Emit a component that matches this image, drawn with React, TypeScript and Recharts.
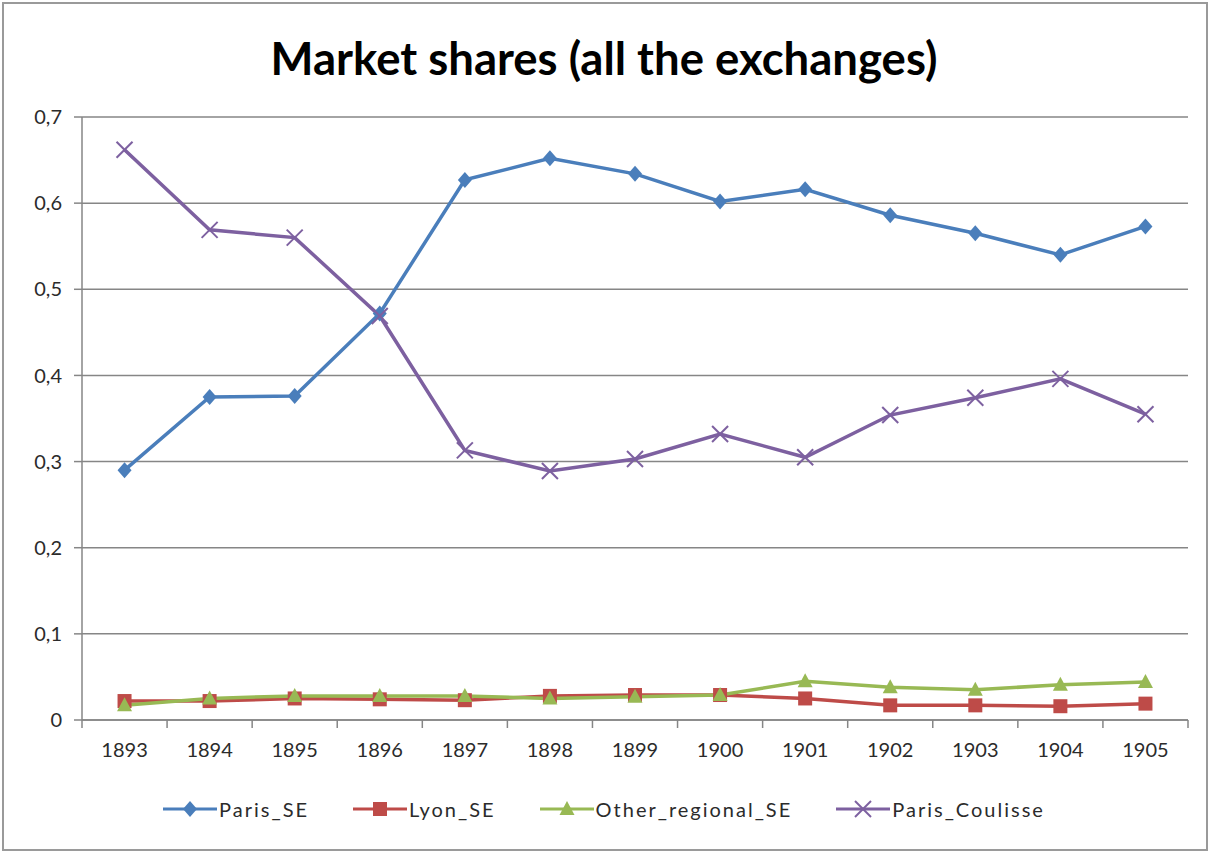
import { LineChart, Line, XAxis, YAxis, CartesianGrid } from 'recharts';

const years = ['1893', '1894', '1895', '1896', '1897', '1898', '1899', '1900', '1901', '1902', '1903', '1904', '1905'];
const parisSE = [0.29, 0.375, 0.376, 0.472, 0.627, 0.652, 0.634, 0.602, 0.616, 0.586, 0.565, 0.54, 0.573];
const lyonSE = [0.022, 0.022, 0.025, 0.024, 0.023, 0.028, 0.029, 0.029, 0.025, 0.017, 0.017, 0.016, 0.019];
const otherRegionalSE = [0.017, 0.025, 0.028, 0.028, 0.028, 0.025, 0.027, 0.029, 0.045, 0.038, 0.035, 0.041, 0.044];
const parisCoulisse = [0.662, 0.569, 0.56, 0.469, 0.313, 0.289, 0.303, 0.332, 0.305, 0.354, 0.374, 0.396, 0.355];
const yTicks = [0, 0.1, 0.2, 0.3, 0.4, 0.5, 0.6, 0.7];

const data = years.map((year, i) => ({
    year,
    Paris_SE: parisSE[i],
    Lyon_SE: lyonSE[i],
    Other_regional_SE: otherRegionalSE[i],
    Paris_Coulisse: parisCoulisse[i],
}));

const W = 1208;
const H = 851;
const LEFT = 82;
const RIGHT = 20;
const BAND = (W - LEFT - RIGHT) / years.length;
const FONT = 'Lato, "Open Sans", sans-serif';
const AXIS = '#868686';
const TEXT = '#2b2b2b';

const BLUE = '#4A7EBB';
const RED = '#BE4B48';
const GREEN = '#98B954';
const PURPLE = '#7D60A0';

const Diamond = ({ cx, cy, color }: any) => (
    <polygon points={`${cx},${cy - 8} ${cx + 7},${cy} ${cx},${cy + 8} ${cx - 7},${cy}`} fill={color} />
);
const Square = ({ cx, cy, color }: any) => (
    <rect x={cx - 7} y={cy - 7} width={14} height={14} fill={color} />
);
const Triangle = ({ cx, cy, color }: any) => (
    <polygon points={`${cx},${cy - 8} ${cx + 7.5},${cy + 6} ${cx - 7.5},${cy + 6}`} fill={color} />
);
const Cross = ({ cx, cy, color }: any) => (
    <g stroke={color} strokeWidth={2}>
        <line x1={cx - 8} y1={cy - 8} x2={cx + 8} y2={cy + 8} />
        <line x1={cx - 8} y1={cy + 8} x2={cx + 8} y2={cy - 8} />
    </g>
);

const series = [
    { key: 'Paris_SE', color: BLUE, Marker: Diamond },
    { key: 'Lyon_SE', color: RED, Marker: Square },
    { key: 'Other_regional_SE', color: GREEN, Marker: Triangle },
    { key: 'Paris_Coulisse', color: PURPLE, Marker: Cross },
];

const XTick = ({ x, y, payload, index }: any) => {
    const axisY = y - 8 - 16;
    const left = x - BAND / 2;
    return (
        <g>
            <line x1={left} y1={axisY} x2={left} y2={axisY + 8} stroke={AXIS} strokeWidth={1.5} />
            {index === years.length - 1 && (
                <line x1={x + BAND / 2} y1={axisY} x2={x + BAND / 2} y2={axisY + 8} stroke={AXIS} strokeWidth={1.5} />
            )}
            <text x={x} y={y - 1} dy="0.71em" textAnchor="middle" fill={TEXT} fontSize={20} fontFamily={FONT}>
                {payload.value}
            </text>
        </g>
    );
};

const Legend = () => (
    <div
        style={{
            position: 'absolute',
            top: 796,
            left: 0,
            width: W,
            display: 'flex',
            justifyContent: 'center',
            gap: 44,
            fontFamily: FONT,
            fontSize: 20,
            letterSpacing: 2,
            color: TEXT,
        }}
    >
        {series.map(({ key, color, Marker }) => (
            <div key={key} style={{ display: 'flex', alignItems: 'center' }}>
                <svg width={54} height={26}>
                    <line x1={0} y1={13} x2={54} y2={13} stroke={color} strokeWidth={3} />
                    <Marker cx={27} cy={13} color={color} />
                </svg>
                <span style={{ marginLeft: 2 }}>{key}</span>
            </div>
        ))}
    </div>
);

export default function App() {
    return (
        <div style={{ position: 'absolute', top: 0, left: 0, width: W, height: H, background: '#fff' }}>
            <div
                style={{
                    position: 'absolute',
                    top: 2,
                    left: 2,
                    width: W - 6,
                    height: H - 6,
                    border: '2px solid #9a9a9a',
                }}
            />
            <div
                style={{
                    position: 'absolute',
                    top: 30,
                    left: 0,
                    width: W,
                    textAlign: 'center',
                    fontFamily: FONT,
                    fontWeight: 700,
                    fontSize: 45.5,
                    color: '#000',
                }}
            >
                Market shares (all the exchanges)
            </div>
            <div style={{ position: 'absolute', top: 0, left: 0 }}>
                <LineChart width={W} height={H} data={data} margin={{ top: 117, right: RIGHT, left: 0, bottom: 81 }}>
                    <CartesianGrid vertical={false} stroke={AXIS} strokeWidth={1.5} />
                    <XAxis
                        dataKey="year"
                        scale="band"
                        height={50}
                        stroke={AXIS}
                        strokeWidth={1.5}
                        tickLine={false}
                        tickSize={8}
                        tickMargin={16}
                        interval={0}
                        tick={<XTick />}
                    />
                    <YAxis
                        width={LEFT}
                        domain={[0, 0.7]}
                        ticks={yTicks}
                        stroke={AXIS}
                        strokeWidth={1.5}
                        tickSize={8}
                        tickMargin={12}
                        tick={{ fill: TEXT, fontSize: 20, fontFamily: FONT }}
                        tickFormatter={(v: number) => String(v).replace('.', ',')}
                    />
                    {series.map(({ key, color, Marker }) => (
                        <Line
                            key={key}
                            dataKey={key}
                            stroke={color}
                            strokeWidth={3.5}
                            isAnimationActive={false}
                            dot={(p: any) => <Marker key={`${key}-${p.index}`} cx={p.cx} cy={p.cy} color={color} />}
                            activeDot={false}
                        />
                    ))}
                </LineChart>
            </div>
            <Legend />
        </div>
    );
}
